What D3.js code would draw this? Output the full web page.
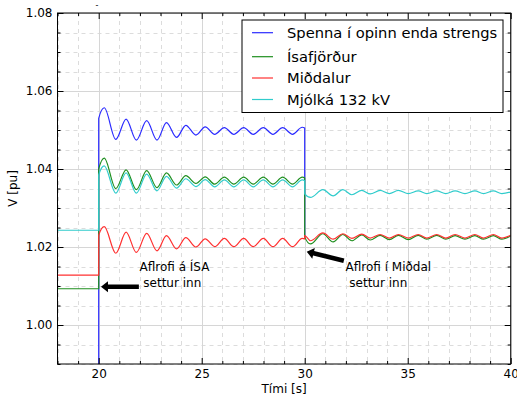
<!DOCTYPE html>
<html><head><meta charset="utf-8">
<script src="https://cdn.jsdelivr.net/npm/d3@7"></script>
<style>
body{margin:0;background:#fff}
svg{display:block}
text{font-family:"DejaVu Sans",sans-serif;fill:#000}
</style>
</head><body>
<svg id="chart" width="517" height="398"></svg>
<script>
// ---------- data ----------
const seriesNames = ["Spenna í opinn enda strengs", "Ísafjörður", "Miðdalur", "Mjólká 132 kV"];
const seriesColors = ["#2b2bff", "#1f8f1f", "#ff3030", "#30cccc"];

// time points (s): 18–30 (ISA breaker closed at 20)
const timeA = [18, 20, 20, 20.27, 20.83, 21.33, 21.83, 22.33, 22.83, 23.29, 23.78, 24.23, 24.72,
               25.17, 25.63, 26.10, 26.56, 27.04, 27.50, 27.99, 28.46, 28.93, 29.41, 29.88, 30];
// time points (s): 30–40 (Miðdalur breaker closed at 30)
const timeB = [30, 30.28, 30.88, 31.38, 31.85, 32.29, 32.77, 33.18, 33.66, 34.11, 34.55, 35.03,
               35.51, 35.93, 36.41, 36.85, 37.30, 37.78, 38.26, 38.68, 39.16, 39.57, 40];

const spennaA = [0, 0, 1.0530, 1.0557, 1.0476, 1.0528, 1.0474, 1.0524, 1.0474, 1.0519, 1.0481, 1.0512, 1.0487,
                 1.0508, 1.0489, 1.0506, 1.0489, 1.0506, 1.0489, 1.0506, 1.0489, 1.0506, 1.0489, 1.0507, 1.0505];
const spennaB = [1.0225];

const isafjordurA = [1.0093, 1.0093, 1.0400, 1.0428, 1.0350, 1.0398, 1.0347, 1.0396, 1.0352, 1.0390, 1.0359, 1.0383, 1.0363,
                     1.0380, 1.0361, 1.0379, 1.0361, 1.0379, 1.0361, 1.0379, 1.0361, 1.0379, 1.0361, 1.0379, 1.0377];
const isafjordurB = [1.0226, 1.0208, 1.0234, 1.0213, 1.0232, 1.0216, 1.0231, 1.0218, 1.0230, 1.0219, 1.0230, 1.0219,
                     1.0230, 1.0220, 1.0230, 1.0220, 1.0229, 1.0220, 1.0229, 1.0220, 1.0229, 1.0220, 1.0228];

const midalurA = [1.0128, 1.0128, 1.0230, 1.0252, 1.0184, 1.0238, 1.0186, 1.0235, 1.0190, 1.0229, 1.0195, 1.0224, 1.0200,
                  1.0221, 1.0201, 1.0222, 1.0201, 1.0222, 1.0201, 1.0222, 1.0201, 1.0222, 1.0201, 1.0222, 1.0221];
const midalurB = [1.0229, 1.0216, 1.0236, 1.0220, 1.0234, 1.0222, 1.0233, 1.0223, 1.0232, 1.0223, 1.0232, 1.0223,
                  1.0232, 1.0223, 1.0232, 1.0223, 1.0232, 1.0223, 1.0232, 1.0223, 1.0232, 1.0223, 1.0230];

const mjolkaA = [1.0243, 1.0243, 1.0385, 1.0408, 1.0338, 1.0390, 1.0338, 1.0387, 1.0344, 1.0381, 1.0351, 1.0375, 1.0355,
                 1.0373, 1.0354, 1.0372, 1.0354, 1.0372, 1.0354, 1.0372, 1.0354, 1.0372, 1.0354, 1.0372, 1.0370];
const mjolkaB = [1.0336, 1.0327, 1.0347, 1.0331, 1.0347, 1.0334, 1.0345, 1.0336, 1.0345, 1.0337, 1.0345, 1.0337,
                 1.0344, 1.0337, 1.0344, 1.0337, 1.0344, 1.0337, 1.0344, 1.0337, 1.0344, 1.0337, 1.0341];

const xTicks = [20, 25, 30, 35, 40];
const yTicks = [1.00, 1.02, 1.04, 1.06, 1.08];
const xLabel = "Tími [s]";
const yLabel = "V [pu]";

const annotations = [
  {lines: ["Aflrofi á ÍSA", "\u00a0settur inn"], tip: [20.11, 1.0098], tail: [21.95, 1.0098], text: [21.98, 1.0138]},
  {lines: ["Aflrofi í Miðdal", "\u00a0settur inn"], tip: [30.10, 1.0188], tail: [31.90, 1.0165], text: [31.98, 1.0138]}
];

// ---------- layout ----------
const svg = d3.select("#chart");
const L = 57.5, R = 510.7, T = 13, B = 364;
const x = d3.scaleLinear().domain([18, 40]).range([L, R]);
const y = d3.scaleLinear().domain([0.99, 1.08]).range([B, T]);

svg.append("rect").attr("width", 517).attr("height", 398).attr("fill", "#fff");

// minor grid
const xMinor = d3.range(18, 40.001, 1).filter(v => v % 5 !== 0);
const yMinor = d3.range(0, 19).map(i => 0.99 + i * 0.005).filter(v => Math.abs(Math.round(v * 1000) % 20) !== 0);
const grid = svg.append("g");
grid.selectAll(".xm").data(xMinor).join("line")
  .attr("x1", d => Math.round(x(d)) + 0.5).attr("x2", d => Math.round(x(d)) + 0.5)
  .attr("y1", T).attr("y2", B).attr("stroke", "#dcdcdc").attr("stroke-dasharray", "4,4");
grid.selectAll(".ym").data(yMinor).join("line")
  .attr("y1", d => Math.round(y(d)) + 0.5).attr("y2", d => Math.round(y(d)) + 0.5)
  .attr("x1", L).attr("x2", R).attr("stroke", "#dcdcdc").attr("stroke-dasharray", "4,4");
grid.selectAll(".xM").data(xTicks).join("line")
  .attr("x1", d => Math.round(x(d)) + 0.5).attr("x2", d => Math.round(x(d)) + 0.5)
  .attr("y1", T).attr("y2", B).attr("stroke", "#d6d6d6");
grid.selectAll(".yM").data(yTicks).join("line")
  .attr("y1", d => Math.round(y(d)) + 0.5).attr("y2", d => Math.round(y(d)) + 0.5)
  .attr("x1", L).attr("x2", R).attr("stroke", "#d6d6d6");

// clip
svg.append("clipPath").attr("id", "clip").append("rect")
  .attr("x", L).attr("y", T).attr("width", R - L).attr("height", B - T);

// series
const seriesA = [spennaA, isafjordurA, midalurA, mjolkaA];
const seriesB = [spennaB, isafjordurB, midalurB, mjolkaB];
const line = d3.line().x(d => x(d[0])).y(d => y(d[1])).curve(d3.curveMonotoneX);
const gLines = svg.append("g").attr("clip-path", "url(#clip)");
seriesNames.forEach((name, i) => {
  const pts = timeA.map((t, k) => [t, seriesA[i][k]])
    .concat(seriesB[i].map((v, k) => [timeB[k], v]));
  gLines.append("path").attr("d", line(pts)).attr("fill", "none")
    .attr("stroke", seriesColors[i]).attr("stroke-width", 1.2);
});

// axes (ticks inside, mirrored)
function axisTicks(g, axis) { g.call(axis); g.select(".domain").remove(); g.selectAll("line").attr("stroke", "#000"); }
const fmt = d3.format(".2f");
const gxB = svg.append("g").attr("transform", `translate(0,${B})`);
axisTicks(gxB, d3.axisBottom(x).tickValues(xTicks).tickSizeInner(-6).tickPadding(5).tickFormat(d3.format("d")));
gxB.selectAll("text").attr("font-size", 12);
const gxBm = svg.append("g").attr("transform", `translate(0,${B})`);
axisTicks(gxBm, d3.axisBottom(x).tickValues(xMinor).tickSizeInner(-3).tickFormat(""));
const gxT = svg.append("g").attr("transform", `translate(0,${T})`);
axisTicks(gxT, d3.axisTop(x).tickValues(xTicks).tickSizeInner(-6).tickFormat(""));
const gxTm = svg.append("g").attr("transform", `translate(0,${T})`);
axisTicks(gxTm, d3.axisTop(x).tickValues(xMinor).tickSizeInner(-3).tickFormat(""));

const gyL = svg.append("g").attr("transform", `translate(${L},0)`);
axisTicks(gyL, d3.axisLeft(y).tickValues(yTicks).tickSizeInner(-6).tickPadding(5).tickFormat(fmt));
gyL.selectAll("text").attr("font-size", 12);
const gyLm = svg.append("g").attr("transform", `translate(${L},0)`);
axisTicks(gyLm, d3.axisLeft(y).tickValues(yMinor).tickSizeInner(-3).tickFormat(""));
const gyR = svg.append("g").attr("transform", `translate(${R},0)`);
axisTicks(gyR, d3.axisRight(y).tickValues(yTicks).tickSizeInner(-6).tickFormat(""));
const gyRm = svg.append("g").attr("transform", `translate(${R},0)`);
axisTicks(gyRm, d3.axisRight(y).tickValues(yMinor).tickSizeInner(-3).tickFormat(""));
svg.selectAll(".tick text").attr("font-family", "DejaVu Sans").attr("fill", "#000");

// frame
svg.append("rect").attr("x", L).attr("y", T).attr("width", R - L).attr("height", B - T)
  .attr("fill", "none").attr("stroke", "#000").attr("stroke-width", 1);

// axis labels
svg.append("text").attr("x", (L + R) / 2).attr("y", 393).attr("text-anchor", "middle")
  .attr("font-size", 12).text(xLabel);
svg.append("text").attr("transform", `translate(17,${(T + B) / 2}) rotate(-90)`)
  .attr("text-anchor", "middle").attr("font-size", 12).text(yLabel);
svg.append("text").attr("x", 97).attr("y", 8).attr("text-anchor", "middle").attr("font-size", 8).text("-");

// annotations
annotations.forEach(a => {
  const x0 = x(a.tail[0]), y0 = y(a.tail[1]), x1 = x(a.tip[0]), y1 = y(a.tip[1]);
  const ang = Math.atan2(y1 - y0, x1 - x0), len = Math.hypot(x1 - x0, y1 - y0);
  const hl = 7, hw = 5.5, sw = 2.3;
  const g = svg.append("g").attr("transform", `translate(${x0},${y0}) rotate(${ang * 180 / Math.PI})`);
  g.append("path").attr("fill", "#000")
    .attr("d", `M0,${-sw}L${len - hl},${-sw}L${len - hl},${-hw}L${len},0L${len - hl},${hw}L${len - hl},${sw}L0,${sw}Z`);
  const t = svg.append("text").attr("font-size", 12);
  a.lines.forEach((s, k) => t.append("tspan").attr("x", x(a.text[0])).attr("y", y(a.text[1]) + k * 15.8).text(s));
});

// legend
const lg = svg.append("g");
lg.append("rect").attr("x", 242).attr("y", 20).attr("width", 261).attr("height", 92.5)
  .attr("fill", "#fff").attr("stroke", "#000").attr("stroke-width", 1);
const rowY = [32.7, 56.7, 78, 99.5];
seriesNames.forEach((name, i) => {
  lg.append("line").attr("x1", 252).attr("x2", 273).attr("y1", rowY[i]).attr("y2", rowY[i])
    .attr("stroke", seriesColors[i]).attr("stroke-width", 1.2);
  lg.append("text").attr("x", 287).attr("y", rowY[i] + 5).attr("font-size", 14.7).text(name);
});
</script>
</body></html>
